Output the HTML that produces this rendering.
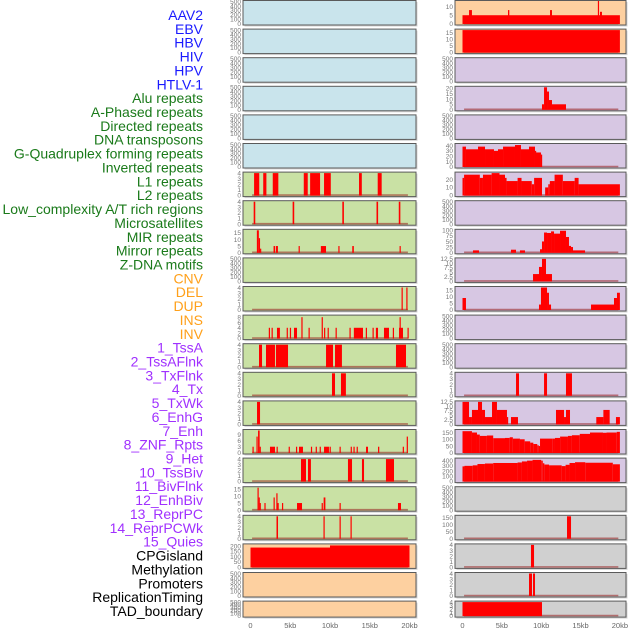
<!DOCTYPE html>
<html><head><meta charset="utf-8"><style>
html,body{margin:0;padding:0;background:#fff;width:630px;height:630px;overflow:hidden}
svg{display:block;font-family:"Liberation Sans",sans-serif}
</style></head><body>
<svg id="chart" width="630" height="630"></svg>
<script>
const labels=["AAV2","EBV","HBV","HIV","HPV","HTLV-1","Alu repeats","A-Phased repeats","Directed repeats","DNA transposons","G-Quadruplex forming repeats","Inverted repeats","L1 repeats","L2 repeats","Low_complexity A/T rich regions","Microsatellites","MIR repeats","Mirror repeats","Z-DNA motifs","CNV","DEL","DUP","INS","INV","1_TssA","2_TssAFlnk","3_TxFlnk","4_Tx","5_TxWk","6_EnhG","7_Enh","8_ZNF_Rpts","9_Het","10_TssBiv","11_BivFlnk","12_EnhBiv","13_ReprPC","14_ReprPCWk","15_Quies","CPGisland","Methylation","Promoters","ReplicationTiming","TAD_boundary"];
const labelGroup=[0,0,0,0,0,0,1,1,1,1,1,1,1,1,1,1,1,1,1,2,2,2,2,2,3,3,3,3,3,3,3,3,3,3,3,3,3,3,3,4,4,4,4,4];
const T500=[0,100,200,300,400,500],T4=[0,1,2,3,4];
const leftBgType=[0,0,0,0,0,0,1,1,1,1,1,1,1,1,1,1,1,1,1,2,2,2];
const rightBgType=[2,2,3,3,3,3,3,3,3,3,3,3,3,3,3,3,3,4,4,4,4,4];
const leftMax=[500,500,500,500,500,500,4,4,17,500,4,8.4,4,4,4,11,4,16,4,210,500,500];
const leftTicks=[T500,T500,T500,T500,T500,T500,T4,T4,[0,5,10,15],T500,T4,[0,2,4,6,8],T4,T4,T4,[0,3,6,9],T4,[0,5,10,15],T4,[0,50,100,150,200],T500,T500];
const leftSegs=[[],[],[],[],[],[],
[[0.45,1.1,4],[1.6,2.0,4],[2.8,3.5,4],[6.7,7.2,4],[7.5,8.75,4],[9.25,10.1,4],[13.65,14.0,4],[16.0,16.5,4]],
[[0.4,0.6,4],[5.3,5.5,4],[11.55,11.75,4],[15.85,16.05,4],[18.65,18.85,4]],
[[0.8,1.05,17],[1.05,1.2,11],[1.2,1.35,3],[2.9,3.1,5],[3.2,3.45,5],[6.05,6.2,5],[8.85,9.5,5],[11.05,11.2,5],[12.8,13.0,5],[18.75,18.9,5]],
[],
[[19.0,19.15,4],[19.6,19.75,4]],
[[2.3,2.45,4],[2.65,2.8,4],[3.33,3.7,4],[4.55,4.7,4],[4.95,5.1,4],[5.47,5.85,4],[6.4,6.55,8],[7.3,7.45,4],[8.95,9.1,8],[9.25,9.4,4],[9.7,9.85,4],[10.7,10.85,4],[12.45,12.6,4],[13.0,14.15,4],[14.5,14.65,4],[15.35,15.5,4],[15.77,16.04,4],[16.79,17.42,4],[17.9,18.05,4],[18.68,19.18,4],[18.75,18.9,8],[19.75,19.9,4]],
[[1.07,1.45,4],[1.95,3.08,4],[3.2,4.72,4],[9.5,10.38,4],[10.63,11.5,4],[18.3,19.56,4]],
[[10.25,10.63,4],[11.38,12.0,4]],
[[0.82,1.2,4]],
[[0.25,0.4,3],[0.75,0.9,8],[0.95,1.15,11],[1.15,1.3,3],[2.45,3.08,3],[3.28,3.43,3],[4.8,4.95,3],[5.72,5.85,3],[6.1,6.6,3],[7.6,7.75,3],[8.2,8.35,3],[8.7,8.85,3],[9.25,9.87,3],[9.95,10.1,3],[11.2,11.35,3],[12.6,12.75,3],[12.95,13.1,3],[13.35,13.5,3],[14.53,14.78,3],[16.04,16.2,3],[19.15,19.3,3],[19.65,19.8,8]],
[[6.35,6.98,4],[7.23,7.6,4],[12.26,12.77,4],[14.02,14.28,4],[17.04,18.05,4]],
[[0.88,1.02,16],[1.02,1.15,9],[1.15,1.3,5],[1.75,1.9,5],[2.9,3.05,9],[3.25,3.4,12],[3.4,3.55,5],[3.96,4.1,5],[5.85,6.48,5],[8.95,9.1,5],[9.2,9.42,9],[11.2,11.35,5],[18.55,18.93,5]],
[[3.27,3.46,4],[9.18,9.3,4],[11.2,11.32,4],[12.58,12.7,4]],
[[0,10,185],[10,20,205]],
[],[]];
const rightMax=[13,17,500,21,500,42,28,500,100,12.5,17,500,500,4,12.5,165,430,500,160,4,4,4];
const rightTicks=[[0,5,10],[0,5,10,15],T500,[0,5,10,15,20],T500,[0,10,20,30,40],[0,10,20],T500,[0,25,50,75,100],[0,2.5,5,7.5,10,12.5],[0,5,10,15],T500,T500,T4,[0,2.5,5,7.5,10,12.5],[0,50,100,150],[0,100,200,300,400],T500,[0,50,100,150],T4,T4,T4];
const rightSegs=[
[[0,20,5],[0.83,1.2,8],[5.78,5.95,8],[11.12,11.37,8],[17.2,17.35,16],[17.47,17.72,7]],
[[0,20,17]],
[],
[[10.1,10.36,5],[10.36,10.74,21],[10.74,10.99,17],[10.99,11.37,9],[11.37,13.15,5]],
[],
[[0,0.44,38],[0.44,1.97,33],[1.97,2.86,38],[2.86,4.0,33],[4.0,4.51,30],[4.51,5.15,33],[5.15,6.67,38],[6.67,7.43,41],[7.43,8.45,33],[8.45,9.21,38],[9.21,9.34,30],[9.34,9.97,27],[9.97,10.1,23]],
[[0,0.2,22],[0.2,2.2,26],[2.2,2.6,22],[2.6,3.7,26],[3.7,4.7,28],[4.7,5.4,26],[5.4,5.6,22],[5.6,7.0,18],[7.0,7.5,22],[7.5,8.8,18],[8.8,9.1,14],[9.1,10.1,22],[10.5,10.9,10],[10.9,11.1,14],[11.1,11.7,18],[11.7,12.75,26],[12.75,14.25,18],[14.25,14.75,22],[14.75,20,14]],
[],
[[1.33,2.1,10],[6.16,6.8,13],[7.3,7.94,10],[9.85,10.1,15],[10.1,10.36,50],[10.36,10.74,90],[10.74,11.25,88],[11.25,11.63,95],[11.63,12.39,85],[12.39,13.15,98],[13.15,13.53,70],[13.53,13.79,30],[13.79,14.04,25],[14.04,15.57,10]],
[[8.96,9.72,4],[9.72,10.1,8],[10.1,10.61,12.5],[10.61,11.37,4]],
[[0,0.44,9],[9.72,9.97,4],[9.97,10.74,17],[10.74,10.99,13],[10.99,11.25,4],[16.33,19.25,4],[19.25,19.63,9],[19.63,20,13]],
[],[],
[[6.8,7.18,4],[10.36,10.74,4],[13.15,13.91,4]],
[[0,0.83,12.5],[0.83,1.2,4],[1.2,1.97,8],[1.97,2.48,12.5],[2.48,2.86,8],[2.86,3.75,4],[3.75,4.38,12.5],[4.38,5.65,8],[5.65,5.78,4],[6.16,7.05,4],[11.88,12.9,8],[12.9,13.15,4],[13.15,13.66,8],[17.0,17.9,4],[17.9,18.7,8],[19.5,20,4]],
[[0,1.2,160],[1.2,1.84,150],[1.84,2.2,135],[2.2,3.1,125],[3.1,3.9,128],[3.9,5.4,108],[5.4,6.0,110],[6.0,6.4,115],[6.4,7.3,105],[7.3,7.9,100],[7.9,8.6,85],[8.6,9.0,75],[9.0,9.5,65],[9.5,9.7,55],[9.7,9.85,50],[9.85,11.4,105],[11.4,11.75,105],[11.75,12.4,110],[12.4,13.4,120],[13.4,13.9,125],[13.9,14.9,130],[14.9,16.2,140],[16.2,17.85,150],[17.85,18.3,148],[18.3,19.6,150],[19.6,20,155]],
[[0,0.25,290],[0.25,1.3,300],[1.3,1.9,310],[1.9,2.85,335],[2.85,3.9,345],[3.9,7.0,355],[7.0,7.55,365],[7.55,8.2,385],[8.2,8.9,400],[8.9,10.0,415],[10.0,10.2,400],[10.2,10.4,350],[10.4,11.0,325],[11.0,12.6,310],[12.6,13.1,295],[13.1,13.6,320],[13.6,14.3,355],[14.3,15.6,370],[15.6,19.1,360],[19.1,20,330]],
[],
[[13.28,13.79,160]],
[[8.7,9.09,4]],
[[8.45,8.83,4],[8.96,9.21,4]],
[[0,10.1,4]]];
const xTicks=[0,5,10,15,20];
const xTickLabels=["0","5kb","10kb","15kb","20kb"];

const NS="http://www.w3.org/2000/svg";
const svg=document.getElementById('chart');
const bgColors=["#c9e4ec","#c9e1a4","#fdd0a0","#d7c7e3","#d0d0d0"];
const labelColors=["#1a1aff","#1a7a1a","#ffa01a","#a030ff","#000000"];
function mk(tag,attrs,parent){const e=document.createElementNS(NS,tag);for(const k in attrs)e.setAttribute(k,attrs[k]);(parent||svg).appendChild(e);return e;}
const cols=[{x0:243,x1:416,z:250.5,s:7.95,tx:241,side:'left'},{x0:455,x1:626,z:462.5,s:7.87,tx:453,side:'right'}];
function rowTop(r){return 0.5+r*28.6;}
function rowH(r){return r===21?16:24.5;}

labels.forEach((t,i)=>{
  const e=mk('text',{x:203,y:20+i*13.86,'text-anchor':'end','font-size':14,fill:labelColors[labelGroup[i]]});
  e.textContent=t;
  
  
});

for(let c=0;c<2;c++){
  const col=cols[c];
  const bgT=c===0?leftBgType:rightBgType, maxA=c===0?leftMax:rightMax, tickA=c===0?leftTicks:rightTicks, segA=c===0?leftSegs:rightSegs;
  for(let r=0;r<22;r++){
    const top=rowTop(r),h=rowH(r),bot=top+h;
    const g=mk('g',{});
    
    
    mk('rect',{x:col.x0+1.5,y:top+1.5,width:col.x1-col.x0,height:h,fill:'#bbb',opacity:0.6},g);
    mk('rect',{x:col.x0,y:top,width:col.x1-col.x0,height:h,fill:bgColors[bgT[r]],stroke:'#5a5a5a','stroke-width':1},g);
    const mx=maxA[r];
    const ys=v=>bot-1.2-v/mx*(h-2.2);
    const xs=k=>col.z+k*col.s;
    const segs=segA[r];
    if(segs.length){
      const bl=mk('line',{x1:xs(0.2),x2:xs(19.8),y1:bot-1.5,y2:bot-1.5,stroke:'rgba(150,30,30,0.55)','stroke-width':1.6},g);
      
      
    }
    segs.forEach(s=>{
      const y=Math.max(top+0.5,ys(s[2]));
      const b=mk('rect',{x:xs(s[0]),y:y,width:Math.max(1.2,xs(s[1])-xs(s[0])),height:bot-1-y,fill:'#ff0000'},g);
      
      
    });
    tickA[r].forEach(v=>{
      const t=mk('text',{x:col.tx,y:ys(v)+2.3,'text-anchor':'end','font-size':6.5,fill:'#777'},g);
      t.textContent=String(v);
      
      
    });
  }
  xTicks.forEach((k,i)=>{
    const t=mk('text',{x:col.z+k*col.s,y:628,'text-anchor':'middle','font-size':7.5,fill:'#666'});
    t.textContent=xTickLabels[i];
    
    
  });
}
</script>
</body></html>
